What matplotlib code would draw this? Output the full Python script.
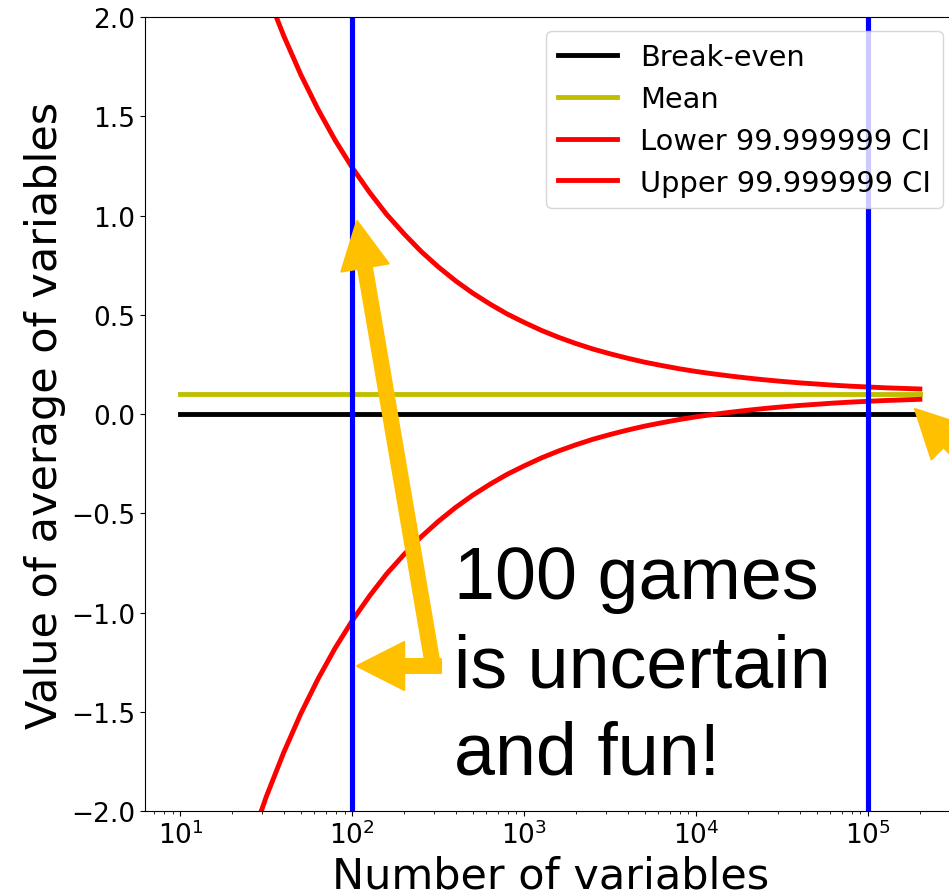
import matplotlib
matplotlib.use("Agg")
import matplotlib.pyplot as plt
from matplotlib.patches import FancyArrowPatch

# ---- data ----
n_ci = [10, 12.6, 15.8, 20.0, 25.1, 31.6, 39.8, 50.1, 63.1, 79.4,
        100, 126, 158, 200, 251, 316, 398, 501, 631, 794,
        1000, 1259, 1585, 1995, 2512, 3162, 3981, 5012, 6310, 7943,
        10000, 12589, 15849, 19953, 25119, 31623, 39811, 50119, 63096, 79433,
        100000, 125893, 158489, 199526]
upper_ci = [3.705, 3.313, 2.964, 2.652, 2.375, 2.127, 1.907, 1.710, 1.535, 1.379,
            1.240, 1.116, 1.006, 0.907, 0.819, 0.741, 0.671, 0.609, 0.554, 0.504,
            0.461, 0.421, 0.386, 0.355, 0.327, 0.303, 0.281, 0.261, 0.244, 0.228,
            0.214, 0.202, 0.191, 0.181, 0.172, 0.164, 0.157, 0.151, 0.145, 0.140,
            0.136, 0.132, 0.129, 0.126]
lower_ci = [-3.505, -3.113, -2.764, -2.452, -2.175, -1.927, -1.707, -1.510, -1.335, -1.179,
            -1.040, -0.916, -0.806, -0.707, -0.619, -0.541, -0.471, -0.409, -0.354, -0.304,
            -0.261, -0.221, -0.186, -0.155, -0.127, -0.103, -0.081, -0.061, -0.044, -0.028,
            -0.014, -0.002, 0.009, 0.019, 0.028, 0.036, 0.043, 0.049, 0.055, 0.060,
            0.064, 0.068, 0.071, 0.074]
n_flat = [10, 199526]
break_even = [0.0, 0.0]
mean_value = [0.1, 0.1]
vlines_n = [100, 100000]
labels = ["Break-even", "Mean", "Lower 99.999999 CI", "Upper 99.999999 CI"]
note_text = "100 games\nis uncertain\nand fun!"

W, H = 949, 895
fig = plt.figure(figsize=(W / 100, H / 100), dpi=100)
ax = fig.add_axes([145 / W, 83 / H, 812 / W, 794 / H])

lw = 3.5
ax.plot(n_flat, break_even, color="k", lw=lw, label=labels[0])
ax.plot(n_flat, mean_value, color="y", lw=lw, label=labels[1])
ax.plot(n_ci, lower_ci, color="r", lw=lw, label=labels[2])
ax.plot(n_ci, upper_ci, color="r", lw=lw, label=labels[3])
for v in vlines_n:
    ax.axvline(v, color="b", lw=3.7)

ax.set_xscale("log")
ax.set_xlim(10 ** 0.794, 10 ** 5.516)
ax.set_ylim(-2.0, 2.0)
ax.tick_params(labelsize=19)
ax.set_xlabel("Number of variables", fontsize=31)
ax.set_ylabel("Value of average of variables", fontsize=31)

ax.legend(loc="upper right", fontsize=20.8, handlelength=2.05,
          labelspacing=0.48)

# ---- annotation overlay (figure pixel coordinates) ----
tr = fig.dpi_scale_trans
def px(x, y):
    return (x / 100, (H - y) / 100)

orange = "#FFC000"
style = "simple,head_length=3.4,head_width=3.45,tail_width=1.0"
for a, b in [((433, 667), (357, 222)),
             ((441, 667), (357, 667)),
             ((1065, 560), (915, 410))]:
    arr = FancyArrowPatch(px(*a), px(*b), transform=tr, arrowstyle=style,
                          mutation_scale=10, color=orange, lw=1.5,
                          joinstyle="round", shrinkA=0, shrinkB=0, zorder=10)
    fig.add_artist(arr)

fig.text(454 / W, (H - 775) / H, note_text, fontsize=53,
         family="Liberation Sans", ha="left", va="baseline",
         linespacing=1.35, zorder=11)

fig.savefig("out.png", dpi=100)
